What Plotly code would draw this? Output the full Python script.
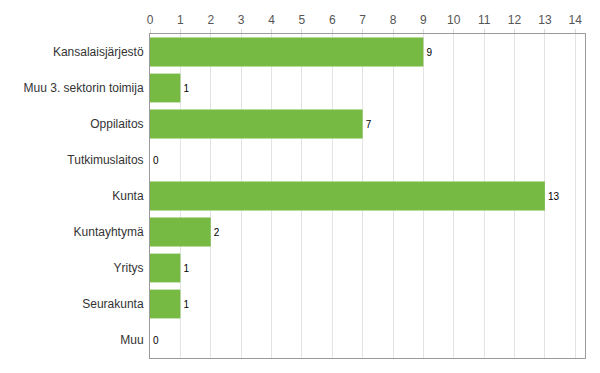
import plotly.graph_objects as go

categories = ["Kansalaisjärjestö", "Muu 3. sektorin toimija", "Oppilaitos", "Tutkimuslaitos",
              "Kunta", "Kuntayhtymä", "Yritys", "Seurakunta", "Muu"]
values = [9, 1, 7, 0, 13, 2, 1, 1, 0]
tick_vals = list(range(0, 15))

fig = go.Figure(go.Bar(
    x=values, y=categories, orientation="h",
    marker=dict(color="#76ba43", line=dict(width=0)),
    text=[str(v) for v in values], textposition="outside",
    textfont=dict(family="Liberation Sans, Arial", size=10, color="#000000"),
    cliponaxis=False, hoverinfo="skip",
))

fig.update_layout(
    width=600, height=373,
    margin=dict(l=150, r=15, t=34, b=15, autoexpand=False),
    paper_bgcolor="white", plot_bgcolor="white",
    bargap=0.2, showlegend=False,
    font=dict(family="Liberation Sans, Arial", size=12, color="#333333"),
)
fig.update_xaxes(
    side="top", range=[0, 14.32], tickvals=tick_vals,
    showgrid=True, gridcolor="#e3e3e3", gridwidth=1,
    showline=True, linecolor="#9a9a9a", mirror=True,
    ticks="outside", ticklen=4, tickcolor="#d8d8d8", ticklabelstandoff=0,
    tickfont=dict(size=12, color="#555555"), zeroline=False,
    automargin=False,
)
fig.update_yaxes(
    autorange="reversed", automargin=False,
    showline=True, linecolor="#9a9a9a", mirror=True,
    ticks="", ticklabelstandoff=3,
    tickfont=dict(size=12, color="#333333"),
)

fig.write_html("out.html", config={"displayModeBar": False},
               post_script="document.body.style.margin='0';document.body.style.overflow='hidden';")
